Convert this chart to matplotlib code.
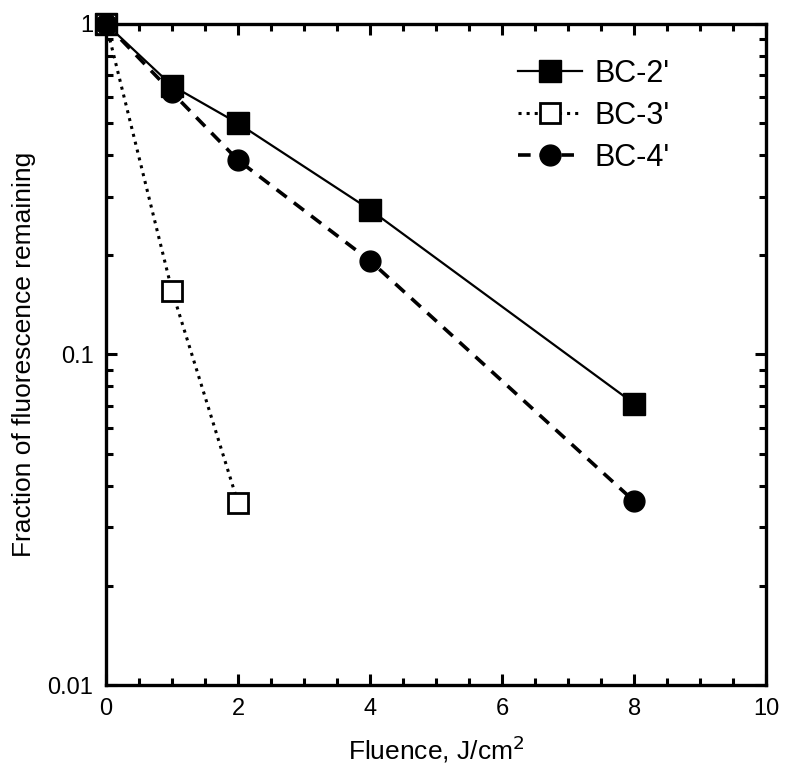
import numpy as np
import matplotlib.pyplot as plt
from matplotlib.ticker import FixedLocator, FixedFormatter, MultipleLocator, LogLocator, NullFormatter

plt.rcParams['font.family'] = ['Liberation Sans', 'DejaVu Sans']

# datos
x_bc2 = [0, 1, 2, 4, 8]
y_bc2 = [1.0, 0.65, 0.50, 0.274, 0.071]

x_bc3 = [0, 1, 2]
y_bc3 = [1.0, 0.156, 0.0356]

x_bc4 = [0, 1, 2, 4, 8]
y_bc4 = [1.0, 0.62, 0.387, 0.192, 0.036]

fig = plt.figure(figsize=(7.85, 7.68), dpi=100)
ax = fig.add_axes([0.135, 0.108, 0.841, 0.861])

ax.plot(x_bc2, y_bc2, '-', color='black', lw=1.6, marker='s', ms=16,
        mfc='black', mec='black', label="BC-2'", clip_on=False, zorder=3)
ax.plot(x_bc3, y_bc3, ':', color='black', lw=2.2, marker='s', ms=14,
        mfc='white', mec='black', mew=2, label="BC-3'", clip_on=False, zorder=3)
ax.plot(x_bc4, y_bc4, '--', color='black', lw=2.6, dashes=(3.5, 2.5), marker='o', ms=15,
        mfc='black', mec='black', label="BC-4'", clip_on=False, zorder=3)

ax.set_yscale('log')
ax.set_xlim(0, 10)
ax.set_ylim(0.01, 1)

ax.xaxis.set_major_locator(MultipleLocator(2))
ax.xaxis.set_minor_locator(MultipleLocator(0.5))
ax.yaxis.set_major_locator(FixedLocator([0.01, 0.1, 1]))
ax.yaxis.set_major_formatter(FixedFormatter(['0.01', '0.1', '1']))
ax.yaxis.set_minor_locator(LogLocator(base=10, subs=np.arange(2, 10)))
ax.yaxis.set_minor_formatter(NullFormatter())

ax.tick_params(which='both', direction='in', top=True, right=True, width=2.2,
               labelsize=17, pad=9)
ax.tick_params(which='major', length=8)
ax.tick_params(which='minor', length=5)
for s in ax.spines.values():
    s.set_linewidth(2.4)

ax.set_xlabel('Fluence, J/cm$^2$', fontsize=19, labelpad=10)
ax.set_ylabel('Fraction of fluorescence remaining', fontsize=19, labelpad=8)

ax.legend(loc='upper left', bbox_to_anchor=(0.606, 0.966), frameon=False, fontsize=22,
          handlelength=2.1, labelspacing=0.4, handletextpad=0.4, borderaxespad=0)

fig.savefig('out.png', dpi=100)
